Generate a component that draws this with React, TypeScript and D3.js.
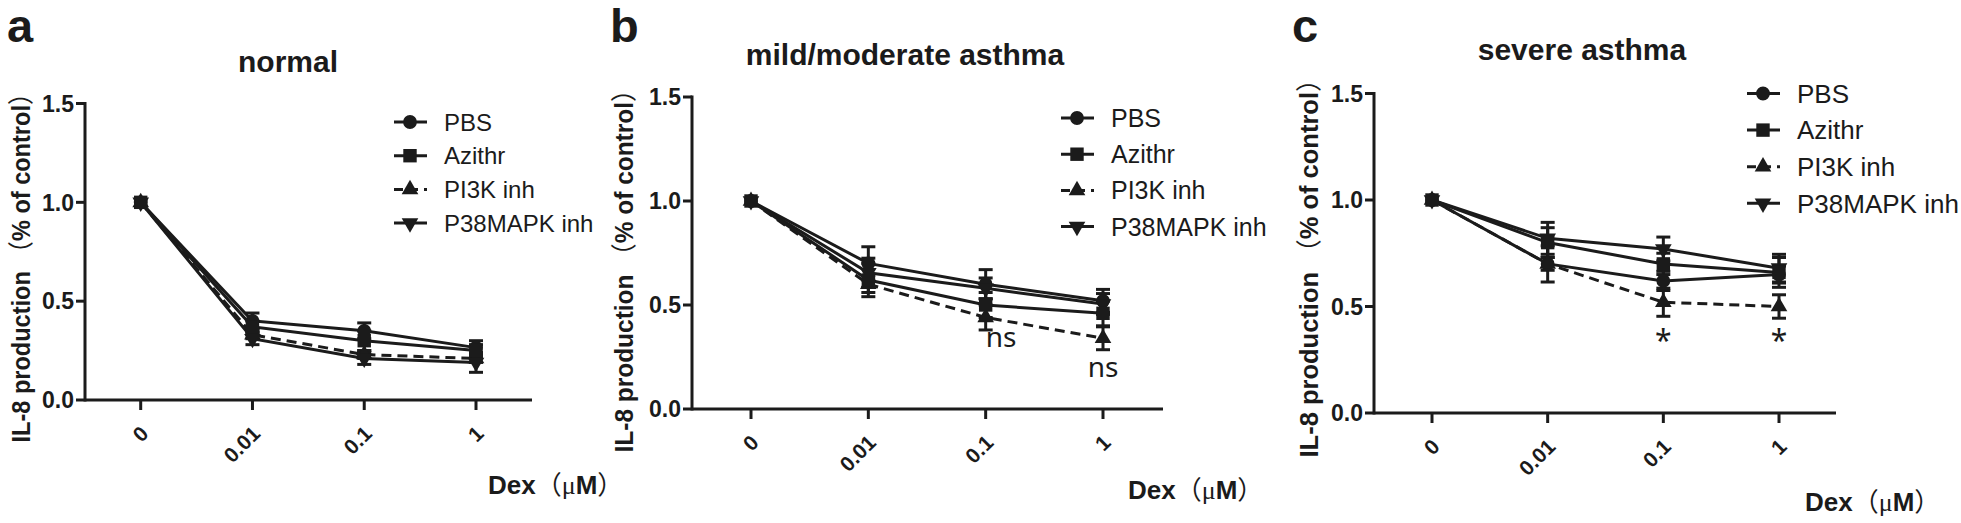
import React from "react";
import * as d3 from "d3";

// doses on the x axis (categorical)
const doses = ["0", "0.01", "0.1", "1"];
const seriesNames = ["PBS", "Azithr", "PI3K inh", "P38MAPK inh"];
const yTicks = [0, 0.5, 1.0, 1.5];
const yTickLabels = ["0.0", "0.5", "1.0", "1.5"];

// rows follow seriesNames
const normalMean = [
  [1, 0.4, 0.35, 0.265],
  [1, 0.37, 0.3, 0.25],
  [1, 0.33, 0.23, 0.21],
  [1, 0.31, 0.21, 0.19],
];
const normalErr = [
  [0, 0.04, 0.04, 0.035],
  [0, 0.03, 0.05, 0.03],
  [0, 0.02, 0.02, 0.02],
  [0, 0.03, 0.03, 0.05],
];

const mildMean = [
  [1, 0.7, 0.6, 0.52],
  [1, 0.62, 0.5, 0.46],
  [1, 0.6, 0.44, 0.34],
  [1, 0.655, 0.58, 0.505],
];
const mildErr = [
  [0, 0.08, 0.07, 0.055],
  [0, 0.08, 0.06, 0.06],
  [0, 0.04, 0.06, 0.055],
  [0, 0.07, 0.05, 0.05],
];

const severeMean = [
  [1, 0.7, 0.62, 0.65],
  [1, 0.8, 0.7, 0.66],
  [1, 0.7, 0.52, 0.5],
  [1, 0.82, 0.77, 0.68],
];
const severeErr = [
  [0, 0.085, 0.045, 0.04],
  [0, 0.07, 0.05, 0.07],
  [0, 0.03, 0.066, 0.055],
  [0, 0.075, 0.056, 0.065],
];

// significance marks: dose, text, height in data units
const mildNotes = [
  { dose: "0.1", text: "ns", value: 0.3, anchor: "start" },
  { dose: "1", text: "ns", value: 0.155, anchor: "middle" },
];
const severeNotes = [
  { dose: "0.1", text: "*", value: 0.29, anchor: "middle" },
  { dose: "1", text: "*", value: 0.29, anchor: "middle" },
];

const panels = [
  {
    key: "a", title: "normal", means: normalMean, errs: normalErr, notes: [],
    left: 85, right: 532, x0: 140.7, x1: 476, y0: 400, yTop: 103.5,
    titleX: 288, titleY: 72, letterX: 7, ylabX: 21, ylabY: 262, ylabLen: 361,
    dexX: 488, dexY: 494, legX: 394, legY: 122, legStep: 33.7, legFont: 24,
  },
  {
    key: "b", title: "mild/moderate asthma", means: mildMean, errs: mildErr, notes: mildNotes,
    left: 692, right: 1163, x0: 751, x1: 1103, y0: 409, yTop: 97,
    titleX: 905, titleY: 65, letterX: 610, ylabX: 624, ylabY: 265, ylabLen: 375,
    dexX: 1128, dexY: 499, legX: 1061, legY: 118, legStep: 36.2, legFont: 25,
  },
  {
    key: "c", title: "severe asthma", means: severeMean, errs: severeErr, notes: severeNotes,
    left: 1374, right: 1836, x0: 1432, x1: 1779, y0: 413, yTop: 93.5,
    titleX: 1582, titleY: 60, letterX: 1292, ylabX: 1309, ylabY: 262, ylabLen: 391,
    dexX: 1805, dexY: 511, legX: 1747, legY: 93.5, legStep: 36.6, legFont: 26,
  },
];

const ink = "#1b1b1b";
const sans = '"Liberation Sans", Arial, sans-serif';
const cjk = '"Noto Sans CJK SC", sans-serif';

const symbolPath = (i: number) => {
  const types = [d3.symbolCircle, d3.symbolSquare, d3.symbolTriangle, d3.symbolTriangle];
  const sizes = [150, 180, 120, 120];
  return d3.symbol().type(types[i]).size(sizes[i])() as string;
};

function Marker({ i, x, y }: { i: number; x: number; y: number }) {
  const rot = i === 3 ? " rotate(180)" : "";
  return <path d={symbolPath(i)} transform={`translate(${x},${y})${rot}`} fill={ink} />;
}

function Panel({ p }: { p: (typeof panels)[number] }) {
  const x = d3.scalePoint<string>().domain(doses).range([p.x0, p.x1]);
  const y = d3.scaleLinear().domain([0, 1.5]).range([p.y0, p.yTop]);
  const line = d3
    .line<number>()
    .x((_, j) => x(doses[j]) as number)
    .y((v) => y(v));
  const order = [0, 2, 3, 1];

  return (
    <g>
      <text x={p.letterX} y={42} fontSize={47} fontWeight={700} fontFamily={sans} fill={ink}>
        {p.key}
      </text>
      <text x={p.titleX} y={p.titleY} fontSize={30} fontWeight={700} fontFamily={sans} textAnchor="middle" fill={ink}>
        {p.title}
      </text>

      <text
        transform={`translate(${p.ylabX},${p.ylabY}) rotate(-90)`}
        textAnchor="middle"
        dy="0.36em"
        fontSize={26}
        fontFamily={sans}
        fontWeight={700}
        fill={ink}
        textLength={p.ylabLen}
        lengthAdjust="spacingAndGlyphs"
      >
        <tspan>IL-8 production </tspan>
        <tspan fontFamily={cjk} fontWeight={400}>（</tspan>
        <tspan>% of control</tspan>
        <tspan fontFamily={cjk} fontWeight={400}>）</tspan>
      </text>

      <text x={p.dexX} y={p.dexY} fontSize={26} fontFamily={sans} fontWeight={700} fill={ink}>
        <tspan>Dex</tspan>
        <tspan fontFamily={cjk} fontWeight={400}>（</tspan>
        <tspan fontFamily='"Liberation Serif", serif' fontWeight={400}>μ</tspan>
        <tspan>M</tspan>
        <tspan fontFamily={cjk} fontWeight={400}>）</tspan>
      </text>

      {/* axes */}
      <line x1={p.left} x2={p.left} y1={y(1.5)} y2={y(0)} stroke={ink} strokeWidth={3} strokeLinecap="square" />
      <line x1={p.left} x2={p.right} y1={y(0)} y2={y(0)} stroke={ink} strokeWidth={3} />
      {yTicks.map((t, k) => (
        <g key={t}>
          <line x1={p.left - 9} x2={p.left} y1={y(t)} y2={y(t)} stroke={ink} strokeWidth={3} />
          <text x={p.left - 11} y={y(t)} dy="0.36em" textAnchor="end" fontSize={23} fontWeight={700} fontFamily={sans} fill={ink}>
            {yTickLabels[k]}
          </text>
        </g>
      ))}
      {doses.map((d) => (
        <g key={d}>
          <line x1={x(d)} x2={x(d)} y1={y(0)} y2={y(0) + 10} stroke={ink} strokeWidth={3} />
          <text
            transform={`translate(${(x(d) as number) + 9},${y(0) + 35}) rotate(-45)`}
            textAnchor="end"
            fontSize={21}
            fontWeight={700}
            fontFamily={sans}
            fill={ink}
          >
            {d}
          </text>
        </g>
      ))}

      {/* series */}
      {order.map((i) => (
        <path
          key={"l" + i}
          d={line(p.means[i]) as string}
          fill="none"
          stroke={ink}
          strokeWidth={3}
          strokeDasharray={i === 2 ? "10,6" : undefined}
        />
      ))}
      {order.map((i) =>
        p.means[i].map((v, j) => {
          const e = p.errs[i][j];
          if (!e) return null;
          const cx = x(doses[j]) as number;
          return (
            <g key={`e${i}-${j}`} stroke={ink} strokeWidth={3}>
              <line x1={cx} x2={cx} y1={y(v - e)} y2={y(v + e)} />
              <line x1={cx - 7} x2={cx + 7} y1={y(v + e)} y2={y(v + e)} />
              <line x1={cx - 7} x2={cx + 7} y1={y(v - e)} y2={y(v - e)} />
            </g>
          );
        })
      )}
      {order.map((i) =>
        p.means[i].map((v, j) => <Marker key={`m${i}-${j}`} i={i} x={x(doses[j]) as number} y={y(v)} />)
      )}

      {p.notes.map((n) => (
        <text
          key={n.dose}
          x={x(n.dose) as number}
          y={y(n.value)}
          textAnchor={n.anchor}
          fontSize={n.text === "*" ? 30 : 28}
          fontFamily='"Noto Sans", sans-serif'
          fill={ink}
        >
          {n.text}
        </text>
      ))}

      {/* legend */}
      {seriesNames.map((name, i) => {
        const ly = p.legY + i * p.legStep;
        return (
          <g key={name}>
            <line
              x1={p.legX}
              x2={p.legX + 33}
              y1={ly}
              y2={ly}
              stroke={ink}
              strokeWidth={3}
              strokeDasharray={i === 2 ? "9,6" : undefined}
            />
            <Marker i={i} x={p.legX + 16} y={ly} />
            <text x={p.legX + 50} y={ly} dy="0.36em" fontSize={p.legFont} fontFamily={sans} fill={ink}>
              {name}
            </text>
          </g>
        );
      })}
    </g>
  );
}

export default function App() {
  return (
    <svg
      width={1961}
      height={523}
      style={{ position: "absolute", left: 0, top: 0, background: "#fff" }}
    >
      <rect width={1961} height={523} fill="#fff" />
      {panels.map((p) => (
        <Panel key={p.key} p={p} />
      ))}
    </svg>
  );
}
